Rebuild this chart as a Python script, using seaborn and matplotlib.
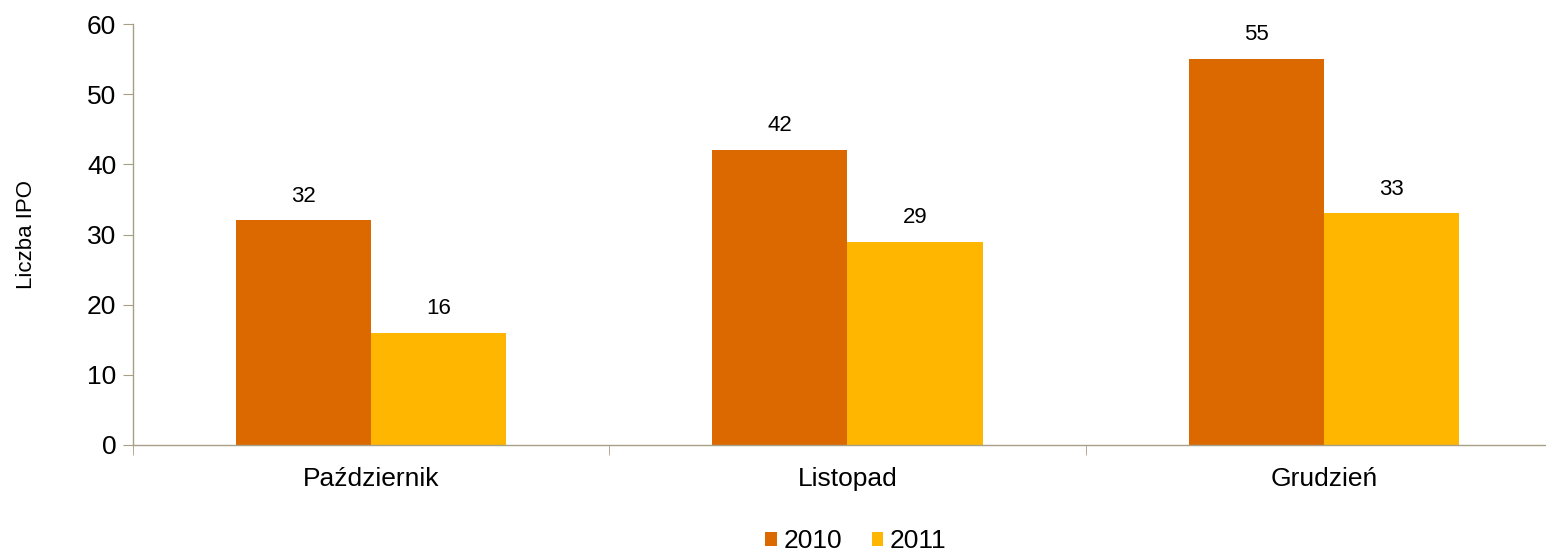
import pandas as pd
import matplotlib.pyplot as plt
import seaborn as sns

# === Data ===
months = ["Październik", "Listopad", "Grudzień"]
years = ["2010", "2011"]
ipo_2010 = [32, 42, 55]
ipo_2011 = [16, 29, 33]

df = pd.DataFrame({
    "Miesiąc": months * 2,
    "Rok": [years[0]] * 3 + [years[1]] * 3,
    "Liczba": ipo_2010 + ipo_2011,
})

# === Setup ===
sns.set_style("white")
plt.rcParams["font.family"] = ["Liberation Sans", "DejaVu Sans"]
plt.rcParams["text.color"] = "black"
plt.rcParams["axes.labelcolor"] = "black"
plt.rcParams["xtick.color"] = "black"
plt.rcParams["ytick.color"] = "black"
axis_col = "#A89F87"
palette = {"2010": "#DB6900", "2011": "#FFB600"}

fig = plt.figure(figsize=(15.46, 5.52), dpi=100)
ax = fig.add_axes([133 / 1546, 107 / 552, (1562 - 133) / 1546, 421 / 552])

sns.barplot(data=df, x="Miesiąc", y="Liczba", hue="Rok", palette=palette,
            width=0.568, gap=0, saturation=1, linewidth=0, ax=ax, legend=True)

for cont in ax.containers:
    ax.bar_label(cont, padding=10, fontsize=16, color="black")

ax.set_xlim(-0.5, 2.5)
ax.set_ylim(0, 60)
ax.set_yticks(range(0, 61, 10))
ax.set_xlabel("")
ax.set_ylabel("Liczba IPO", fontsize=16, labelpad=36)

for side in ["top", "right"]:
    ax.spines[side].set_visible(False)
for side in ["left", "bottom"]:
    ax.spines[side].set_color(axis_col)
    ax.spines[side].set_linewidth(1)

ax.tick_params(axis="y", labelsize=19, length=7, color=axis_col, labelcolor="black",
               direction="out", left=True, pad=5)
ax.tick_params(axis="x", which="major", labelsize=19, length=0, pad=16, labelcolor="black")
ax.set_xticks([-0.5, 0.5, 1.5, 2.5], minor=True)
ax.tick_params(axis="x", which="minor", length=7, color=axis_col, direction="out", bottom=True)

ax.legend(loc="center", bbox_to_anchor=(856 / 1546, 11 / 552), bbox_transform=fig.transFigure,
          ncol=2, frameon=False, fontsize=19, handlelength=0.45, handleheight=0.45,
          handletextpad=0.25, columnspacing=1.1, labelcolor="black")

plt.savefig("out.png", dpi=100)
plt.close()
